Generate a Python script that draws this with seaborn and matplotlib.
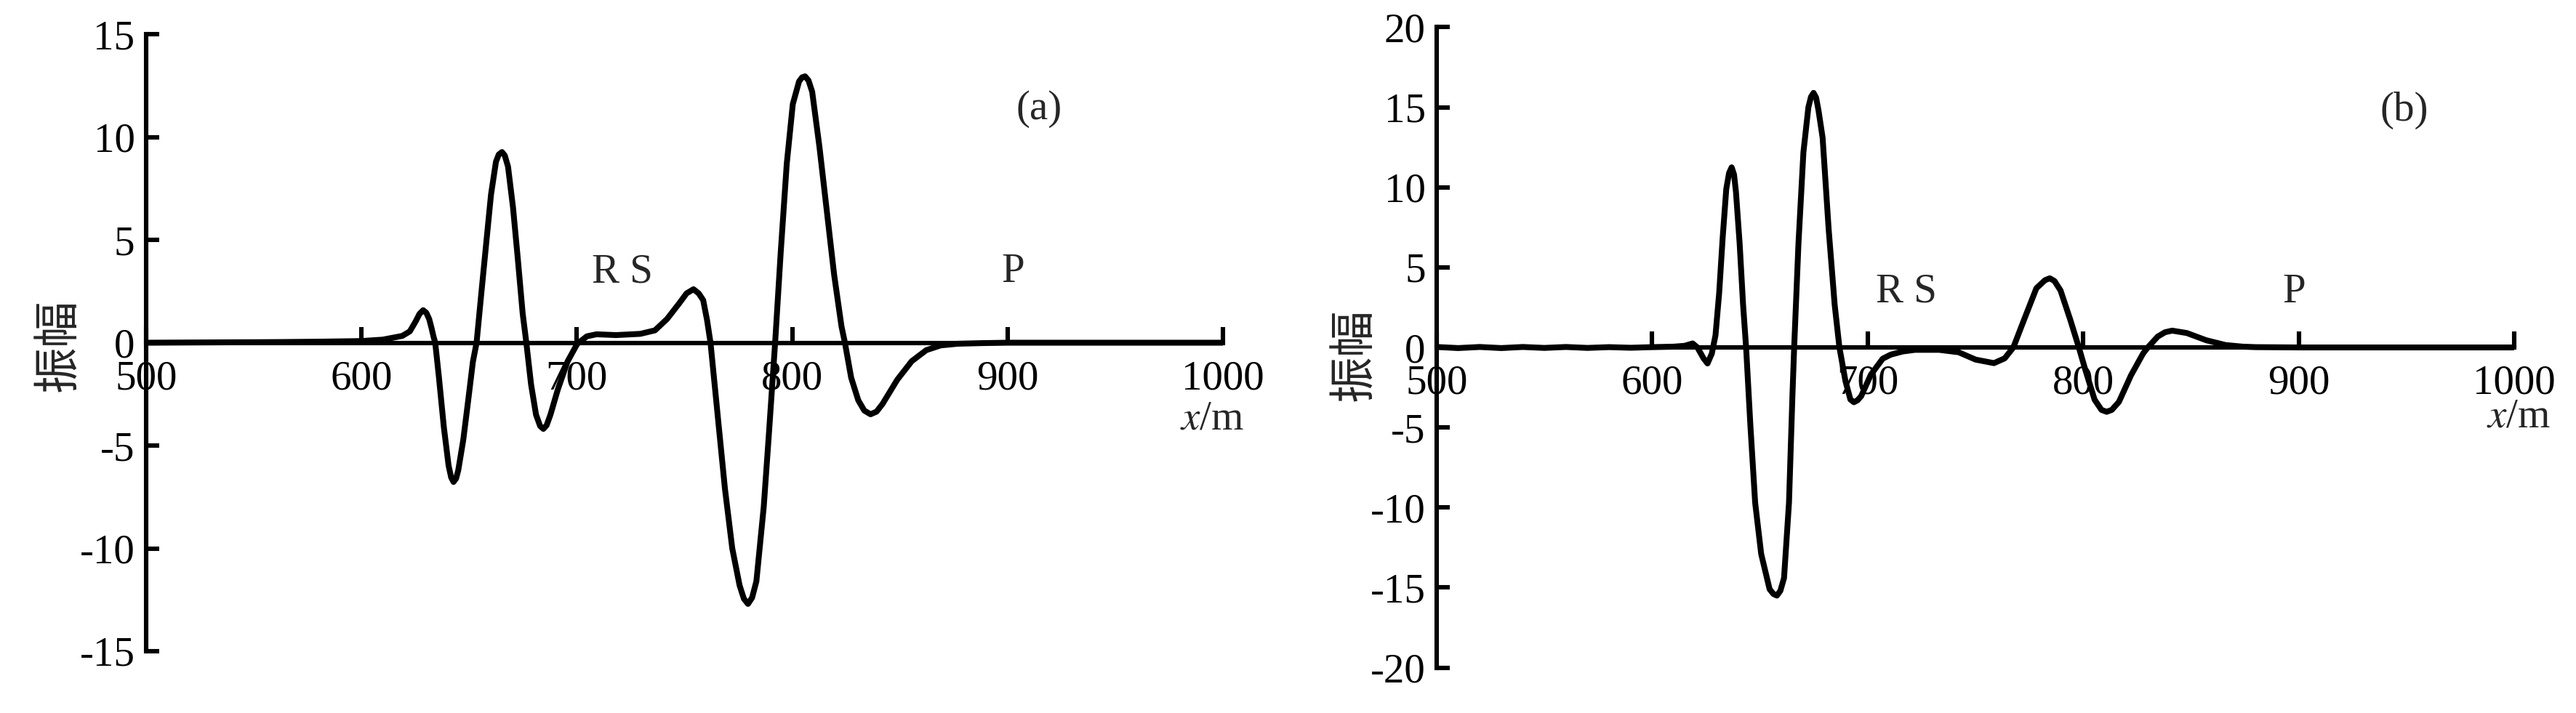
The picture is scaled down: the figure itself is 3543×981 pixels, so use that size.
import matplotlib
matplotlib.use("Agg")
import matplotlib.pyplot as plt
import seaborn as sns
import pandas as pd

# ---------------- data ----------------
xa = [500, 520, 540, 560, 580, 600, 610, 619, 622.5, 625.3, 627, 628.7, 630.2, 631.5,
      632.5, 633.5, 634.3, 636, 638.3, 640.5, 641.7, 642.8, 644, 645, 647.3, 649.5,
      651.8, 653.5, 655.7, 658, 660.2, 662.5, 663.8, 665.3, 666.6, 668.1, 670.4,
      672.6, 674.9, 676.6, 678.8, 681.1, 683, 684.5, 686, 687.8, 691.2, 695.7,
      700.2, 704.7, 709.2, 718.2, 729.5, 736.3, 741.9, 747.4, 751, 754.2, 756.6,
      758.7, 760.5, 762.1, 765.4, 768.8, 772.2, 775.6, 777.6, 779.5, 781.4, 783.4,
      786.8, 789.1, 792.1, 794.7, 797.5, 800.3, 803.2, 804.6, 806, 807.6, 809.3,
      812.7, 816.1, 819.5, 822.9, 824.5, 827.4, 830.7, 833.5, 836.4, 839.2, 842,
      848.8, 855.5, 862.3, 869, 876.9, 888.2, 900, 950, 1000]
ya = [0, 0.01, 0.02, 0.03, 0.05, 0.08, 0.15, 0.33, 0.55, 1.05, 1.4, 1.58, 1.45, 1.15,
      0.75, 0.3, 0, -1.66, -4.1, -5.97, -6.55, -6.77, -6.6, -6.2, -4.74, -2.9,
      -0.92, 0, 2.4, 4.86, 7.2, 8.8, 9.15, 9.27, 9.1, 8.56, 6.59,
      4.13, 1.42, 0, -2.03, -3.5, -4.05, -4.19, -4.02, -3.5, -2.28, -0.92,
      -0.06, 0.31, 0.41, 0.37, 0.43, 0.6, 1.15, 1.89, 2.4, 2.6, 2.4,
      2.07, 1.1, 0, -3.5, -7.1, -10.0, -11.8, -12.45, -12.7, -12.4, -11.6,
      -8.0, -4.6, 0, 4.4, 8.7, 11.6, 12.7, 12.9, 12.95, 12.75, 12.2,
      9.5, 6.4, 3.3, 0.8, 0, -1.7, -2.8, -3.3, -3.48, -3.35, -2.97,
      -1.8, -0.9, -0.36, -0.13, -0.05, -0.02, 0, 0, 0]

xb = [500, 510, 520, 530, 540, 550, 560, 570, 580, 590, 600, 610, 615, 618.8, 621,
      623.8, 625.7, 627.7, 629.4, 631.1, 632.7, 634.4, 635.7, 636.9, 638, 638.9,
      640.6, 642.2, 643.6, 645.6, 647.8, 650.6, 654.5, 656.3, 657.9, 659.5, 661.2,
      663.5, 665.1, 665.9, 667.9, 670.2, 672.5, 673.7, 674.9, 676.1, 677.2, 679.1,
      681.9, 684.7, 686.9, 689.7, 692, 693.6, 695.3, 697, 701.5, 707, 710.7, 716.3,
      722, 733.2, 742.2, 750.1, 758.6, 763.6, 767.6, 772.6, 778.3, 782.3, 784.5,
      786.7, 789.5, 794, 798, 800.8, 805.3, 808.5, 810.9, 813.3, 816.6, 822.2,
      827.8, 830, 834.6, 838, 841.3, 848.1, 857.1, 866.1, 874, 880, 900, 950, 1000]
yb = [0.03, -0.04, 0.03, -0.04, 0.03, -0.03, 0.03, -0.03, 0.02, -0.02, 0.02, 0.05, 0.1,
      0.25, 0, -0.67, -1.0, -0.38, 0.76, 3.4, 6.8, 9.9, 10.9, 11.25, 10.8, 9.7,
      6.5, 2.66, 0, -4.9, -9.7, -12.9, -15.1, -15.4, -15.5, -15.2, -14.4,
      -9.7, -3.0, 0, 6.5, 12.2, 15.0, 15.65, 15.9, 15.6, 14.8, 13.1,
      7.4, 2.66, 0, -2.1, -3.25, -3.42, -3.3, -3.04, -1.7, -0.7, -0.45, -0.25,
      -0.15, -0.15, -0.3, -0.76, -0.98, -0.68, 0, 1.74, 3.7, 4.2, 4.32,
      4.15, 3.56, 1.74, 0, -1.3, -3.26, -3.9, -4.02, -3.9, -3.4, -1.74,
      -0.38, 0, 0.68, 0.95, 1.05, 0.9, 0.45, 0.15, 0.05, 0.02, 0, 0, 0]

x_ticks = [500, 600, 700, 800, 900, 1000]
x_ticklabels = ["500", "600", "700", "800", "900", "1000"]
ya_ticks = [-15, -10, -5, 0, 5, 10, 15]
ya_ticklabels = ["-15", "-10", "-5", "0", "5", "10", "15"]
yb_ticks = [-20, -15, -10, -5, 0, 5, 10, 15, 20]
yb_ticklabels = ["-20", "-15", "-10", "-5", "0", "5", "10", "15", "20"]

panel_labels = ["(a)", "(b)"]
wave_labels = ["R S", "P"]
y_label = "振幅"
x_label = r"$\mathit{x}$/m"

# ---------------- style ----------------
sns.set_theme(style="white")
plt.rcParams["font.family"] = ["Liberation Serif", "Noto Sans CJK SC", "DejaVu Sans"]
plt.rcParams["mathtext.fontset"] = "stix"
plt.rcParams["axes.unicode_minus"] = False

FS = 41
LW_SPINE = 4.4
LW_CURVE = 5.8

fig = plt.figure(figsize=(35.43, 9.81), dpi=100)
fig.patch.set_facecolor("white")

panels = [
    dict(x=xa, y=ya, rect=[0.05665, 0.08665, 0.4181, 0.8654], ylim=(-15, 15),
         yt=ya_ticks, ytl=ya_ticklabels, lab=panel_labels[0],
         lab_pos=(914.5, 10.87), rs_pos=(721.2, 2.95), p_pos=(902.6, 2.95),
         xl_pos=(995, -4.2), yl_coords=(-0.0808, 0.496)),
    dict(x=xb, y=yb, rect=[0.5577, 0.0636, 0.4183, 0.8982], ylim=(-20, 20),
         yt=yb_ticks, ytl=yb_ticklabels, lab=panel_labels[1],
         lab_pos=(949, 14.16), rs_pos=(717.8, 2.86), p_pos=(897.8, 2.8),
         xl_pos=(1002, -4.95), yl_coords=(-0.0762, 0.489)),
]

for p in panels:
    ax = fig.add_axes(p["rect"])
    ax.set_facecolor("none")
    df = pd.DataFrame({"x": p["x"], "y": p["y"]})
    sns.lineplot(data=df, x="x", y="y", ax=ax, color="black", linewidth=LW_CURVE,
                 estimator=None, sort=False, zorder=3, solid_joinstyle="round",
                 solid_capstyle="round")
    ax.set_xlim(500, 1000)
    ax.set_ylim(*p["ylim"])

    for s in ["top", "right"]:
        ax.spines[s].set_visible(False)
    ax.spines["bottom"].set_position(("data", 0))
    for s in ["left", "bottom"]:
        ax.spines[s].set_linewidth(LW_SPINE)
        ax.spines[s].set_color("black")
        ax.spines[s].set_zorder(2)

    ax.set_xticks(x_ticks)
    ax.set_xticklabels(x_ticklabels)
    ax.set_yticks(p["yt"])
    ax.set_yticklabels(p["ytl"])
    ax.tick_params(axis="x", bottom=True, top=False, direction="in", length=16,
                   width=LW_SPINE, labelsize=FS, pad=17, colors="black")
    ax.tick_params(axis="y", left=True, right=False, direction="in", length=13,
                   width=LW_SPINE, labelsize=FS, pad=11, colors="black")

    ax.set_xlabel("")
    ax.set_ylabel(y_label, fontsize=46, family=["Noto Sans CJK SC"])
    ax.yaxis.set_label_coords(*p["yl_coords"])
    ax.yaxis.label.set_va("center")

    ax.text(*p["lab_pos"], p["lab"], fontsize=FS, ha="center", va="baseline")
    ax.text(*p["rs_pos"], wave_labels[0], fontsize=FS, ha="center", va="baseline")
    ax.text(*p["p_pos"], wave_labels[1], fontsize=FS, ha="center", va="baseline")
    ax.text(*p["xl_pos"], x_label, fontsize=FS, ha="center", va="baseline")
    ax.grid(False)

fig.savefig("out.png", dpi=100, facecolor="white")
